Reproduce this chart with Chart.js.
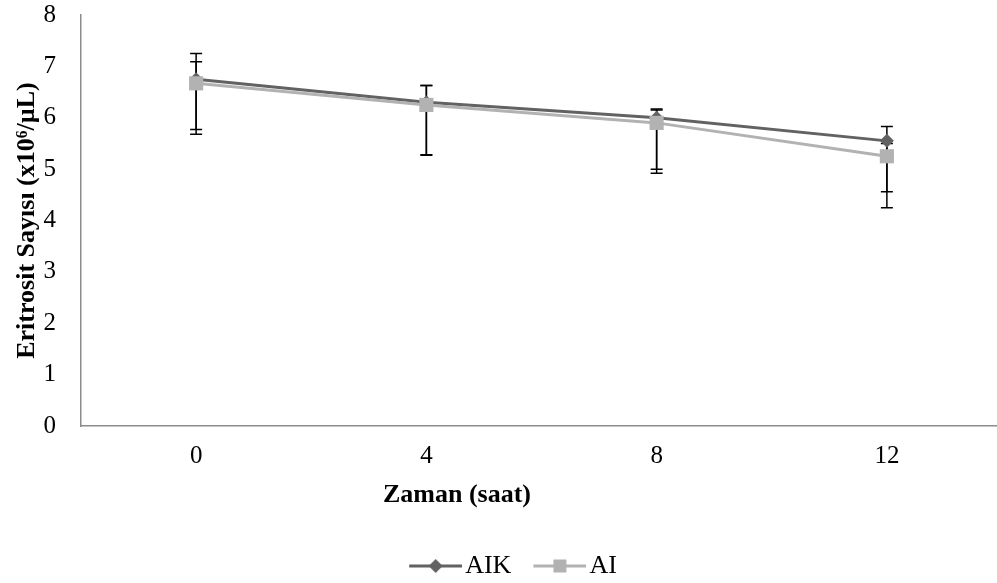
<!DOCTYPE html>
<html lang="tr">
<head>
    <meta charset="UTF-8"/>
    <title>Eritrosit Sayısı</title>
    <script src="https://cdn.jsdelivr.net/npm/chart.js"></script>
    <style>
        body { margin: 0; overflow: hidden; background: #fff; }
        .chart-container { width: 1012px; height: 583px; }
    </style>
</head>
<body>
    <div class="chart-container">
        <canvas id="myChart"></canvas>
    </div>
    <script>
        // zaman (saat) ve ortalama eritrosit sayilari
        const zaman = ['0', '4', '8', '12'];
        const aik = [6.75, 6.3, 6.0, 5.55];
        const ai = [6.67, 6.25, 5.9, 5.25];

        // hata cubuklari: ust ve alt sapma
        const aikUst = [0.5, 0.33, 0.17, 0.28];
        const aikAlt = [0.98, 1.02, 1.0, 0.99];
        const aiUst = [0.42, 0.38, 0.25, 0.25];
        const aiAlt = [0.99, 0.98, 0.98, 1.0];

        const yazi = 'Liberation Serif, Times New Roman, serif';

        // legend icin cizgi + isaret resmi (solda bos pay var)
        function legendIcon(renk, stil) {
            var pay = 24;
            var c = document.createElement('canvas');
            c.width = 53 + pay;
            c.height = 16;
            var ctx = c.getContext('2d');
            ctx.strokeStyle = renk;
            ctx.lineWidth = 3;
            ctx.beginPath();
            ctx.moveTo(pay, 8);
            ctx.lineTo(pay + 53, 8);
            ctx.stroke();
            ctx.fillStyle = renk;
            ctx.beginPath();
            var m = pay + 26.5;
            if (stil === 'rectRot') {
                ctx.moveTo(m, 1);
                ctx.lineTo(m + 7, 8);
                ctx.lineTo(m, 15);
                ctx.lineTo(m - 7, 8);
                ctx.closePath();
            } else {
                ctx.rect(m - 6.5, 1.5, 13, 13);
            }
            ctx.fill();
            return c;
        }

        const hataCubuklari = {
            id: 'hataCubuklari',
            beforeDatasetsDraw(chart) {
                var ctx = chart.ctx;
                var y = chart.scales.y;
                var sapmalar = [[aikUst, aikAlt], [aiUst, aiAlt]];
                ctx.save();
                ctx.strokeStyle = '#000';
                ctx.lineWidth = 1.5;
                chart.data.datasets.forEach(function (ds, i) {
                    var meta = chart.getDatasetMeta(i);
                    ds.data.forEach(function (v, j) {
                        var x = meta.data[j].x;
                        var ust = y.getPixelForValue(v + sapmalar[i][0][j]);
                        var alt = y.getPixelForValue(v - sapmalar[i][1][j]);
                        ctx.beginPath();
                        ctx.moveTo(x, ust);
                        ctx.lineTo(x, alt);
                        ctx.moveTo(x - 6, ust);
                        ctx.lineTo(x + 6, ust);
                        ctx.moveTo(x - 6, alt);
                        ctx.lineTo(x + 6, alt);
                        ctx.stroke();
                    });
                });
                ctx.restore();
            },
            afterDraw(chart) {
                var ctx = chart.ctx;
                ctx.save();
                ctx.font = 'bold 26px ' + yazi;
                ctx.fillStyle = '#000';
                ctx.textAlign = 'center';
                ctx.textBaseline = 'middle';
                ctx.fillText('Zaman (saat)', 457, 495);
                ctx.restore();
            }
        };

        var ctx = document.getElementById('myChart').getContext('2d');
        var myChart = new Chart(ctx, {
            type: 'line',
            data: {
                labels: zaman,
                datasets: [{
                    label: 'AIK',
                    data: aik,
                    borderColor: '#626262',
                    backgroundColor: '#626262',
                    borderWidth: 3,
                    pointStyle: 'rectRot',
                    pointRadius: 7,
                    pointBorderWidth: 0,
                    order: 1
                }, {
                    label: 'AI',
                    data: ai,
                    borderColor: '#b2b2b2',
                    backgroundColor: '#b2b2b2',
                    borderWidth: 3,
                    pointStyle: 'rect',
                    pointRadius: 10,
                    pointBorderWidth: 0,
                    order: 0
                }]
            },
            options: {
                responsive: true,
                maintainAspectRatio: false,
                animation: false,
                layout: { padding: { top: 15, right: 0, bottom: -6, left: 0 } },
                plugins: {
                    tooltip: { enabled: false },
                    legend: {
                        position: 'bottom',
                        labels: {
                            usePointStyle: true,
                            pointStyleWidth: 57,
                            padding: 8,
                            color: '#000',
                            font: { family: yazi, size: 26 },
                            generateLabels: function (chart) {
                                return chart.data.datasets.map(function (ds, i) {
                                    return {
                                        text: ds.label,
                                        pointStyle: legendIcon(ds.borderColor, ds.pointStyle),
                                        fillStyle: 'transparent',
                                        strokeStyle: 'transparent',
                                        lineWidth: 0,
                                        fontColor: '#000',
                                        hidden: false,
                                        datasetIndex: i
                                    };
                                });
                            }
                        }
                    }
                },
                scales: {
                    x: {
                        offset: true,
                        grid: { display: false, drawTicks: false },
                        border: { color: '#8c8c8c', width: 1.5 },
                        ticks: { color: '#000', padding: 15, font: { family: yazi, size: 25 } },
                        afterFit: function (scale) { scale.height = 119; }
                    },
                    y: {
                        min: 0,
                        max: 8,
                        grid: { display: false, drawTicks: false },
                        border: { color: '#8c8c8c', width: 1.5 },
                        ticks: { stepSize: 1, color: '#000', padding: 25, font: { family: yazi, size: 25 } },
                        title: {
                            display: true,
                            text: 'Eritrosit Sayısı (x10⁶/µL)',
                            color: '#000',
                            padding: { top: 12, bottom: 0 },
                            font: { family: yazi, size: 26, weight: 'bold' }
                        },
                        afterFit: function (scale) {
                            scale.width = 81;
                            scale.paddingTop = 0;
                            scale.paddingBottom = 0;
                        }
                    }
                }
            },
            plugins: [hataCubuklari]
        });
    </script>
</body>
</html>
